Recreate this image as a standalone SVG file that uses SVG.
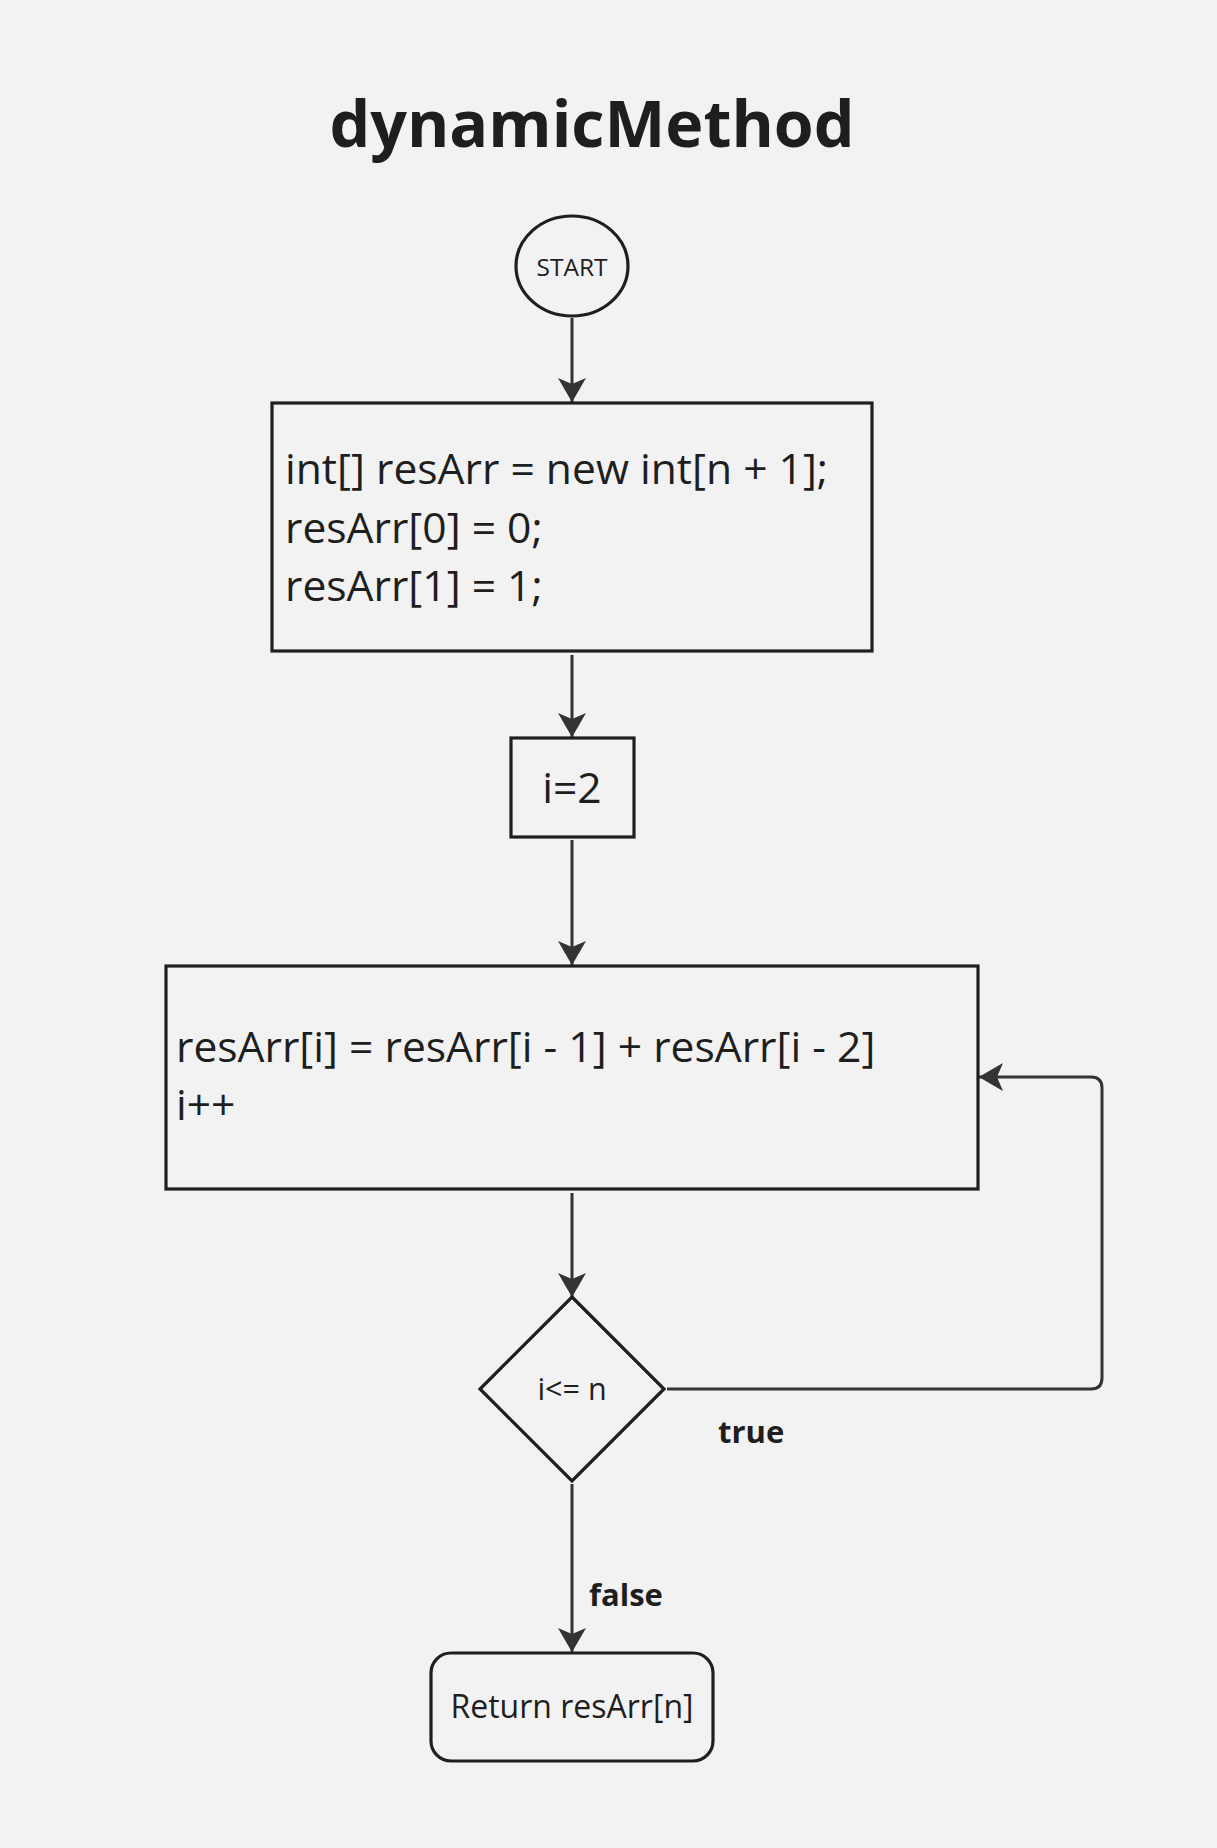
<svg xmlns="http://www.w3.org/2000/svg" width="1217" height="1848" viewBox="0 0 1217 1848">
  <style>
    .shape { fill: none; stroke: #1e1e1e; stroke-width: 3.2; }
    .conn { fill: none; stroke: #333333; stroke-width: 3; }
    .txt { font-family: "Open Sans", "Liberation Sans", sans-serif; fill: #1e1e1e; }
    .code { font-size: 42.6px; }
    .lbl { font-size: 31px; font-weight: 700; }
  </style>
  <defs>
    <marker id="arrow" viewBox="-26 -16 28 32" refX="0" refY="0" markerWidth="28" markerHeight="32" markerUnits="userSpaceOnUse" orient="auto">
      <path d="M0,0 Q-10,-6 -24,-14 L-18,0 L-24,14 Q-10,6 0,0 Z" fill="#333333"/>
    </marker>
  </defs>

  <rect width="1217" height="1848" fill="#f2f2f2"/>

  <text class="txt" x="592" y="147" font-size="64.5" font-weight="700" text-anchor="middle">dynamicMethod</text>

  <!-- connectors -->
  <g id="connectors">
    <line class="conn" x1="572" y1="318" x2="572" y2="402" marker-end="url(#arrow)"/>
    <line class="conn" x1="572" y1="655" x2="572" y2="737" marker-end="url(#arrow)"/>
    <line class="conn" x1="572" y1="840" x2="572" y2="965" marker-end="url(#arrow)"/>
    <line class="conn" x1="572" y1="1193" x2="572" y2="1297" marker-end="url(#arrow)"/>
    <path class="conn" d="M667,1389 H1091 Q1102,1389 1102,1378 V1088 Q1102,1077 1091,1077 H979" marker-end="url(#arrow)"/>
    <line class="conn" x1="572" y1="1484" x2="572" y2="1652" marker-end="url(#arrow)"/>
    <text class="txt lbl" x="718" y="1443">true</text>
    <text class="txt lbl" x="589" y="1606">false</text>
  </g>

  <!-- nodes -->
  <g id="start">
    <ellipse class="shape" cx="572" cy="266" rx="56" ry="50"/>
    <text class="txt" x="572" y="276" font-size="24.5" text-anchor="middle">START</text>
  </g>

  <g id="init-array">
    <rect class="shape" x="272" y="403" width="600" height="248"/>
    <text class="txt code" x="285" y="484">int[] resArr = new int[n + 1];</text>
    <text class="txt code" x="285" y="543">resArr[0] = 0;</text>
    <text class="txt code" x="285" y="601">resArr[1] = 1;</text>
  </g>

  <g id="init-i">
    <rect class="shape" x="511" y="738" width="123" height="99"/>
    <text class="txt code" x="572" y="803" text-anchor="middle">i=2</text>
  </g>

  <g id="loop-body">
    <rect class="shape" x="166" y="966" width="812" height="223"/>
    <text class="txt code" x="176" y="1062">resArr[i] = resArr[i - 1] + resArr[i - 2]</text>
    <text class="txt code" x="176" y="1120">i++</text>
  </g>

  <g id="condition">
    <polygon class="shape" points="572,1297 664,1389 572,1481 480,1389"/>
    <text class="txt" x="572" y="1400" font-size="30.5" text-anchor="middle">i&lt;= n</text>
  </g>

  <g id="return">
    <rect class="shape" x="431" y="1653" width="282" height="108" rx="20" ry="20"/>
    <text class="txt" x="572" y="1718" font-size="32" text-anchor="middle">Return resArr[n]</text>
  </g>
</svg>
